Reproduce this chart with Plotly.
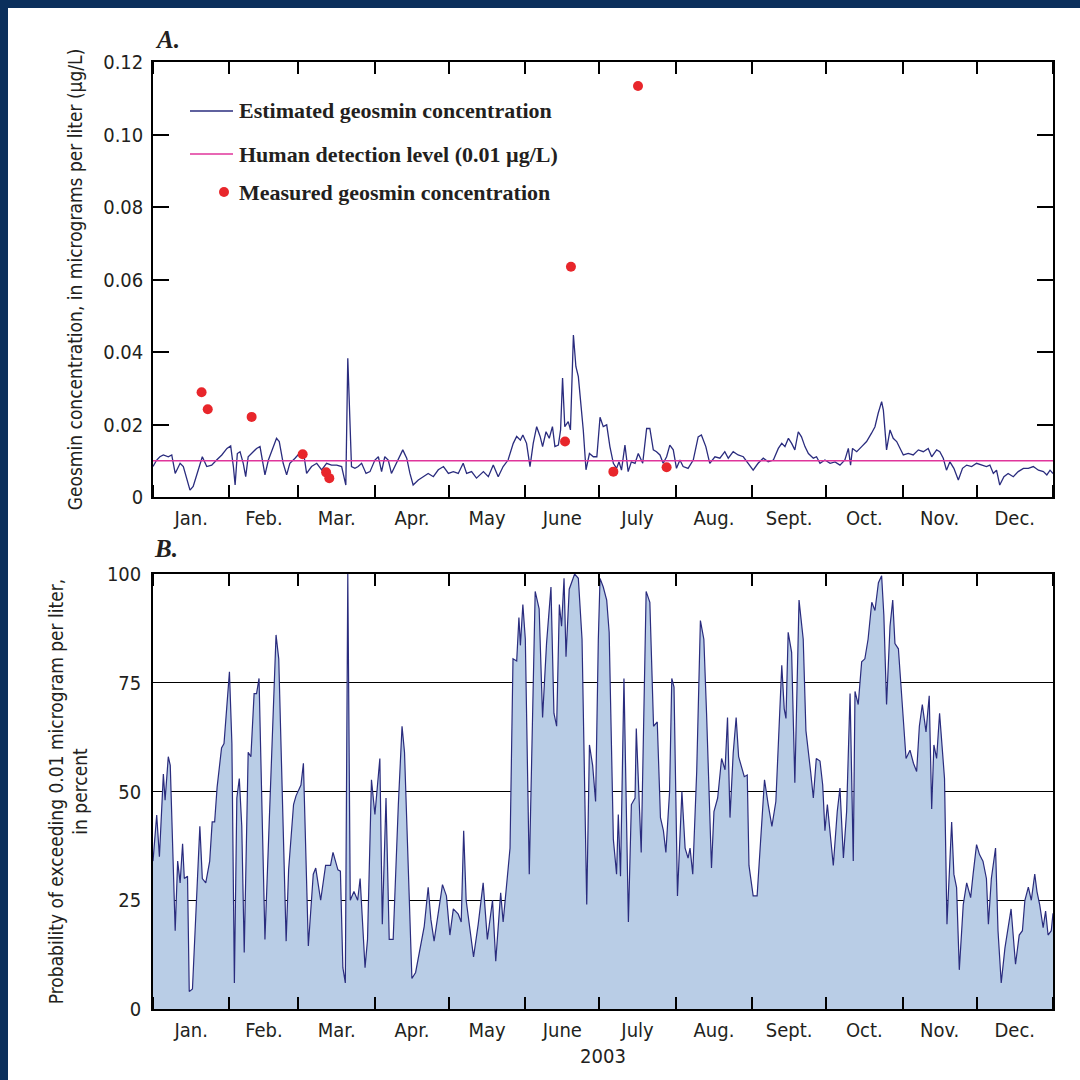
import pandas as pd
import plotly.graph_objects as go

# ---------------- data (day offset from 2003-01-01) ----------------
YEAR_START = "2003-01-01"
YEAR_END = "2004-01-01"

A_DAY = [0, 1.5, 2.8, 4.2, 6.2, 7.6, 9, 11, 12.3, 13.6, 15, 16.3, 18.4, 20, 21.8, 23.8, 25.8, 27.9, 30, 31.5,
         32.6, 33.3, 34.2, 35.3, 36.6, 37.6, 38.6, 40, 42, 43.4, 45.4, 46.8, 48.5, 50.1, 51.2, 52.8, 54.2, 55.5,
         57.6, 59.3, 61, 62.3, 64.3, 66.4, 68.4, 70.4, 72.4, 74.5, 76.5, 78.2, 79, 79.9, 80.5, 81.9, 83.2, 84.6,
         86.4, 88, 90, 91.4, 92.7, 94, 95.4, 96.7, 98.8, 101.3, 102.9, 104.2, 105.5, 107.6, 109.6, 111.6, 113.7,
         115.7, 117.8, 119.8, 121.8, 123.8, 125.8, 127.2, 129.2, 131.2, 134, 136, 138, 140, 142, 144, 146.1,
         147.5, 149, 150, 151.5, 152.9, 154.2, 155.6, 157, 158, 159.4, 160.7, 162, 163, 164.4, 165.3, 166.1,
         167, 168.4, 169.3, 170.5, 171.5, 172.5, 173.4, 174.5, 175.6, 177, 178.6, 180, 181.3, 182.6, 184,
         185.3, 186.7, 188, 189, 190, 191.4, 192.7, 194, 195.5, 196.8, 198.6, 200.2, 201.5, 202.9, 204.2,
         205.6, 206.9, 208.3, 209.6, 211, 212.3, 213.7, 215, 217, 219.1, 221.1, 222.4, 224.2, 225.8, 227.9,
         229.9, 231.9, 233.3, 235.3, 237.3, 239.4, 241.4, 243.4, 245.4, 247.5, 249.5, 251.6, 253.6, 255,
         256.3, 257.7, 259, 260.3, 261.7, 263, 264.4, 265.8, 267.8, 269.1, 270.5, 272.5, 274.6, 276.6, 278.6,
         280.6, 282, 282.9, 283.7, 285.4, 287.4, 289.4, 291.4, 292.8, 294.1, 295.5, 296.2, 297.5, 298.9,
         300.2, 301.6, 302.9, 304.3, 306.3, 308.3, 310.4, 312.4, 314.4, 315.8, 317.8, 319.1, 320.5, 321.8,
         323.2, 324.8, 326.6, 328.3, 330, 332, 334, 336, 338, 339.4, 340.8, 342.1, 343.4, 345.1, 346.8, 348.9,
         350.9, 353, 355, 357, 359.1, 361.1, 362.5, 363.8, 365]
A_VAL = [0.0084, 0.0102, 0.0111, 0.0116, 0.0111, 0.0116, 0.0065, 0.0093, 0.0084, 0.0056, 0.0019, 0.0029, 0.0075,
         0.0111, 0.0084, 0.0088, 0.0102, 0.0116, 0.0134, 0.0141, 0.0084, 0.0033, 0.012, 0.0125, 0.0093, 0.0056,
         0.0111, 0.012, 0.0134, 0.0139, 0.0061, 0.0102, 0.0134, 0.0162, 0.0153, 0.0093, 0.0061, 0.0093, 0.0107,
         0.012, 0.0125, 0.0065, 0.0084, 0.0093, 0.0075, 0.0093, 0.0088, 0.0088, 0.0084, 0.0033, 0.0383, 0.0213,
         0.0084, 0.0079, 0.0084, 0.0093, 0.0065, 0.007, 0.0102, 0.0111, 0.007, 0.0111, 0.0102, 0.0065, 0.0093,
         0.013, 0.0107, 0.0065, 0.0033, 0.0047, 0.0056, 0.0065, 0.0056, 0.0075, 0.0084, 0.0065, 0.007, 0.0065,
         0.0093, 0.0065, 0.007, 0.0052, 0.007, 0.0056, 0.0088, 0.0056, 0.0084, 0.0102, 0.0148, 0.0167, 0.0157,
         0.0171, 0.0148, 0.0084, 0.0148, 0.0194, 0.0167, 0.0139, 0.018, 0.0162, 0.0194, 0.0139, 0.0143, 0.0185,
         0.0328, 0.0194, 0.0208, 0.0185, 0.0447, 0.036, 0.0332, 0.0268, 0.0185, 0.0075, 0.012, 0.0111, 0.0111,
         0.022, 0.0194, 0.0199, 0.0139, 0.0093, 0.0079, 0.0097, 0.0074, 0.0143, 0.007, 0.0097, 0.0093, 0.012,
         0.0093, 0.0189, 0.0189, 0.013, 0.0125, 0.0116, 0.0093, 0.0111, 0.0143, 0.013, 0.0079, 0.0102, 0.0084,
         0.0079, 0.0102, 0.0166, 0.0171, 0.0139, 0.0093, 0.0111, 0.0107, 0.0125, 0.0107, 0.0125, 0.0116,
         0.0111, 0.0093, 0.0074, 0.0093, 0.0107, 0.0097, 0.0102, 0.0134, 0.0148, 0.0139, 0.0162, 0.0148, 0.013,
         0.018, 0.0166, 0.0139, 0.012, 0.0107, 0.0111, 0.0093, 0.0102, 0.0093, 0.0097, 0.0088, 0.0102, 0.0134,
         0.0088, 0.0134, 0.0125, 0.0139, 0.0153, 0.0176, 0.0194, 0.0231, 0.0263, 0.024, 0.013, 0.0185, 0.0162,
         0.0153, 0.0134, 0.0116, 0.012, 0.0116, 0.013, 0.0125, 0.0134, 0.0111, 0.013, 0.0125, 0.0107, 0.0074,
         0.0097, 0.0079, 0.0047, 0.0079, 0.0088, 0.0084, 0.0093, 0.0088, 0.0084, 0.0088, 0.0065, 0.0074, 0.0033,
         0.0056, 0.0065, 0.0056, 0.007, 0.0079, 0.0079, 0.0084, 0.0074, 0.007, 0.0061, 0.0074, 0.0065]

DETECTION_LEVEL = 0.01

M_DAY = [19.7, 22.2, 40, 60.7, 70.2, 71.5, 167.1, 169.5, 186.7, 196.7, 208.3]
M_VAL = [0.0289, 0.0242, 0.0221, 0.0118, 0.0068, 0.0052, 0.0153, 0.0635, 0.0070, 0.1134, 0.0082]

B_DAY = [0, 1.5, 2.6, 4.2, 4.9, 6.2, 7, 9, 10, 11, 12, 12.7, 14, 14.7, 16, 19, 20, 21.4, 23, 24, 25, 26, 27.8,
         28.8, 31, 32, 33, 34, 35, 36, 37, 38.6, 39.7, 41, 42, 43, 45.4, 46.8, 48.4, 49.9, 51, 52.6, 54, 55, 57,
         58, 60, 61, 63, 65, 66, 68, 70, 72, 73, 75, 76, 77, 78, 79, 80, 81.5, 83, 84, 86, 87, 88.6, 90, 92, 93,
         94.5, 95.8, 97.4, 99.5, 101, 102, 105, 106.5, 108, 110, 111.6, 112.7, 114, 115.7, 117.4, 119,
         120.4, 121.8, 123.8, 125, 126, 127, 130, 131.9, 133.9, 135.6, 137.7, 139, 141, 142, 143.4, 144.8,
         146, 147.5, 148.4, 149, 150, 151, 152.6, 153.8, 155, 156.6, 158, 159.6, 161.4, 162.6, 163.7, 164.8,
         165.7, 166.7, 167.5, 168.8, 171, 172.5, 174, 175.9, 177, 178.3, 179.5, 180.6, 181.3, 182.6, 184, 185,
         186.7, 188, 188.7, 189.6, 191, 192.8, 194, 195.5, 196, 198, 200, 201.5, 203, 204.5, 205.8, 207, 208,
         209.5, 210.4, 211.3, 212.7, 214.5, 215.8, 217, 217.8, 218.9, 220.5, 222, 223.4, 224.5, 226.5, 227.5,
         229, 230.6, 232, 233, 234, 235.3, 236.5, 237.5, 238.9, 239.8, 241, 241.7,
         243.4, 245, 246.4, 248, 249.5, 251, 252.6, 254, 255, 256, 256.7, 257.6, 259, 260.3, 262, 263.7, 264.8,
         266.7, 267.8, 269, 270.5, 271.6, 272.5, 273.5, 274.5, 275.9, 277.5, 278.6, 280, 281.3, 282.7, 284,
         284.7, 286, 287.4, 288.7, 290, 291.5, 292.8, 294.2, 295.5, 296.4, 297.5, 298.9, 300, 300.9, 302.3, 304,
         305.4, 307, 308.4, 309.7, 310.8, 312, 313.5, 314.8, 315.8, 316.7, 317.8, 319, 321, 322, 322.9, 323.9,
         324.8, 325.9, 327, 328.6, 330, 331.6, 332.6, 334, 335.2, 336.6, 338, 338.8, 340, 341.7, 342.7, 344,
         345.5, 346.8, 348, 349.8, 351.3, 352.6, 353.6, 355, 356.2, 357.6, 358.5, 359.6, 361, 362, 363, 364.3,
         365]
B_VAL = [34, 44.6, 35, 54, 48, 58, 56, 18, 34, 29, 38, 30, 30.5, 4, 4.6, 42, 30, 29, 34, 43, 43, 51, 60, 61, 77.5,
         61, 6, 48.5, 53, 42, 13, 59, 58, 72.5, 72.5, 76, 16, 39, 66, 86, 80.5, 45, 15.6, 32, 47, 49, 51.5, 56.5,
         14.5, 31, 32.4, 25, 33, 33, 36, 32, 31.7, 9.5, 6, 100, 25, 27, 25, 30, 9.5, 16, 52.7, 44.7, 57.6, 19.5,
         48.5, 16, 16, 47, 65, 59, 7, 8.4, 12.6, 19, 28, 20.6, 15.6, 22.5, 28.6, 26,
         17, 23, 21.8, 20, 41, 25, 12, 19.5, 29, 16, 25, 11, 26.7, 20, 28, 37,
         80.5, 80, 90, 83.6, 93, 85, 31, 68, 96, 92, 67, 84, 97, 68, 65, 93,
         88, 99, 81, 96.5, 100, 99, 85, 24, 60.7, 56, 47.7, 85, 99, 97, 94, 86.6,
         39, 31, 44.7, 30.5, 76, 20, 47, 48.5, 64.5, 36, 96, 93.5, 65, 66, 44, 41, 36,
         50, 76, 74, 26, 50, 37, 34.7, 37, 31, 54.6, 89.3, 85, 68, 32.4, 45.4,
         48.5, 57.6, 55, 67, 44, 58.8, 67, 58, 55, 53.4, 53.8, 33,
         26, 26, 38.5, 52.7, 47, 42, 47.7, 68, 79, 69, 66.8, 86.6, 82, 52, 94, 85, 64,
         54.6, 48.5, 57.6, 57, 51.5, 41, 47, 41, 33, 45.4, 50.8, 34.7, 45.4, 72.5, 34,
         73, 70, 79.8, 80.5, 85, 93.5, 91.6, 98, 99.6, 90.5, 70, 88, 94, 84, 82.8, 70,
         57.6, 59.5, 56.5, 54.6, 65, 70, 63.7, 72, 46, 60.7, 57.6, 68, 53, 19.5, 31.7, 43,
         31, 27.9, 9, 24, 29, 25.6, 31, 37.8, 35.5, 34, 30, 19.5, 30, 37, 18, 6,
         14, 18.7, 23, 10.3, 17, 18, 25, 28, 25, 31, 27, 24, 18.7, 22.5, 17, 18,
         22]

MONTH_LABELS = ["Jan.", "Feb.", "Mar.", "Apr.", "May", "June", "July", "Aug.", "Sept.", "Oct.", "Nov.", "Dec."]
A_TICKS = [0, 0.02, 0.04, 0.06, 0.08, 0.10, 0.12]
A_TICKTEXT = ["0", "0.02", "0.04", "0.06", "0.08", "0.10", "0.12"]
B_TICKS = [0, 25, 50, 75, 100]

# ---------------- helpers ----------------
t0 = pd.Timestamp(YEAR_START)
def to_dates(days):
    return t0 + pd.to_timedelta(pd.Series(days, dtype=float), unit="D")

month_starts = list(pd.date_range(YEAR_START, YEAR_END, freq="MS"))
month_mids = [s + (e - s) / 2 for s, e in zip(month_starts[:-1], month_starts[1:])]

NAVY = "#2a2c7e"
MAGENTA = "#e0359b"
RED = "#e8262b"
FILL = "#b9cde6"
NARROW = "DejaVu Sans Condensed, Liberation Sans Narrow, sans-serif"
SERIF = "Liberation Serif, Times New Roman, serif"
TXT = "#231f20"

W = H = 1080
def px(x):
    return x / W
def py(y):
    return 1 - y / H

XDOM = [px(153), px(1053)]
A_DOM = [py(497), py(62)]
B_DOM = [py(1009), py(574)]

fig = go.Figure()

fig.add_trace(go.Scatter(x=to_dates(A_DAY), y=A_VAL, mode="lines", xaxis="x", yaxis="y",
                         line=dict(color=NAVY, width=1.3), name="Estimated geosmin concentration",
                         showlegend=False))
fig.add_trace(go.Scatter(x=to_dates(M_DAY), y=M_VAL, mode="markers", xaxis="x", yaxis="y",
                         marker=dict(color=RED, size=10), name="Measured geosmin concentration",
                         showlegend=False))
fig.add_trace(go.Scatter(x=to_dates(B_DAY), y=B_VAL, mode="lines", xaxis="x2", yaxis="y2",
                         fill="tozeroy", fillcolor=FILL, line=dict(color=NAVY, width=1.2),
                         name="Probability", showlegend=False))

# detection level line
fig.add_shape(type="line", xref="x domain", yref="y", x0=0, x1=1, y0=DETECTION_LEVEL, y1=DETECTION_LEVEL,
              line=dict(color=MAGENTA, width=1.6))

TICKFONT = dict(family=NARROW, size=20, color=TXT)
x_axis = dict(type="date", range=[YEAR_START, YEAR_END], domain=XDOM, automargin=False,
              tickmode="array", tickvals=month_mids, ticktext=MONTH_LABELS, ticks="",
              tickfont=TICKFONT, ticklabelstandoff=2,
              minor=dict(tickmode="array", tickvals=month_starts, ticks="inside", ticklen=12,
                         tickwidth=1.5, tickcolor="black", showgrid=False),
              showline=True, linecolor="black", linewidth=1.5, mirror="ticks",
              showgrid=False, zeroline=False)

fig.update_layout(
    width=W, height=H, margin=dict(l=0, r=0, t=0, b=0, autoexpand=False),
    paper_bgcolor="#0b2f5c", plot_bgcolor="white",
    xaxis=dict(x_axis, anchor="y"),
    xaxis2=dict(x_axis, anchor="y2",
                title=dict(text="2003", font=dict(family=NARROW, size=20, color=TXT), standoff=8)),
    yaxis=dict(domain=A_DOM, anchor="x", range=[0, 0.12], automargin=False, tickmode="array",
               tickvals=A_TICKS, ticktext=A_TICKTEXT, ticks="inside", ticklen=16, tickwidth=1.5,
               tickcolor="black", showline=True, linecolor="black", linewidth=1.5, mirror="ticks",
               showgrid=False, zeroline=False, tickfont=TICKFONT, ticklabelstandoff=4,
               title=dict(text="Geosmin concentration, in micrograms per liter (µg/L)",
                          font=dict(family=NARROW, size=19, color=TXT), standoff=16)),
    yaxis2=dict(domain=B_DOM, anchor="x2", range=[0, 100], automargin=False, tickmode="array",
                tickvals=B_TICKS, ticks="", showline=True, linecolor="black", linewidth=1.5, mirror=True,
                showgrid=True, gridcolor="black", gridwidth=1.3, zeroline=False,
                tickfont=TICKFONT, ticklabelstandoff=6,
                title=dict(text="Probability of exceeding 0.01 microgram per liter,<br>in percent",
                           font=dict(family=NARROW, size=19, color=TXT), standoff=14)),
)

# white page panel over dark frame
fig.add_shape(type="rect", xref="paper", yref="paper", x0=px(8), x1=1.01, y0=-0.01, y1=py(8),
              fillcolor="white", line=dict(width=0), layer="below")

# panel letters
fig.add_annotation(text="<b><i>A.</i></b>", xref="paper", yref="paper", x=px(153), y=py(40),
                   xanchor="left", yanchor="middle", showarrow=False,
                   font=dict(family=SERIF, size=25, color=TXT))
fig.add_annotation(text="<b><i>B.</i></b>", xref="paper", yref="paper", x=px(152), y=py(548),
                   xanchor="left", yanchor="middle", showarrow=False,
                   font=dict(family=SERIF, size=25, color=TXT))

# legend (panel A)
LEG_FONT = dict(family=SERIF, size=22, color=TXT)
fig.add_shape(type="line", xref="paper", yref="paper", x0=px(190), x1=px(233), y0=py(111), y1=py(111),
              line=dict(color=NAVY, width=1.4))
fig.add_annotation(text="<b>Estimated geosmin concentration</b>", xref="paper", yref="paper",
                   x=px(237), y=py(111), xanchor="left", yanchor="middle", showarrow=False, font=LEG_FONT)
fig.add_shape(type="line", xref="paper", yref="paper", x0=px(190), x1=px(233), y0=py(154), y1=py(154),
              line=dict(color=MAGENTA, width=1.6))
fig.add_annotation(text="<b>Human detection level (0.01 µg/L)</b>", xref="paper", yref="paper",
                   x=px(237), y=py(154), xanchor="left", yanchor="middle", showarrow=False, font=LEG_FONT)
fig.add_shape(type="circle", xref="paper", yref="paper", x0=px(219), x1=px(229), y0=py(197), y1=py(187),
              fillcolor=RED, line=dict(width=0))
fig.add_annotation(text="<b>Measured geosmin concentration</b>", xref="paper", yref="paper",
                   x=px(237), y=py(192), xanchor="left", yanchor="middle", showarrow=False, font=LEG_FONT)

fig.write_html("out.html")
